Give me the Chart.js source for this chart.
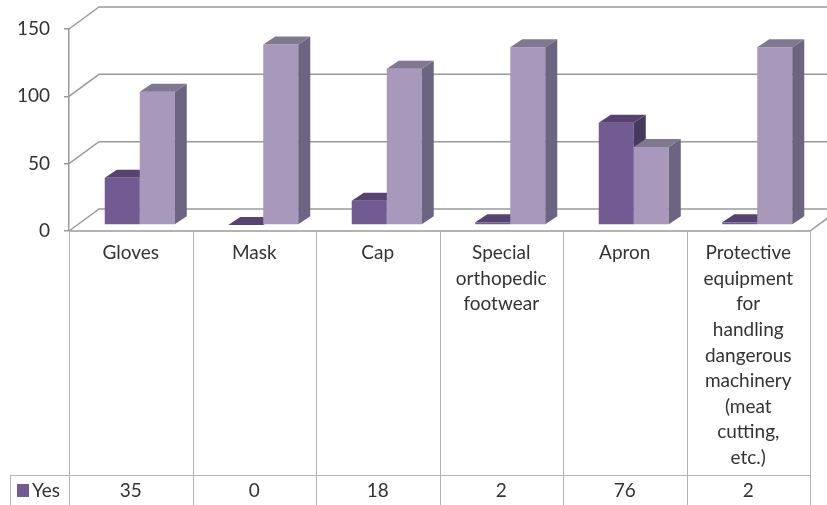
<!DOCTYPE html>
<html>
<head>
<meta charset="utf-8">
<script src="https://cdn.jsdelivr.net/npm/chart.js@4.4.0/dist/chart.umd.min.js"></script>
<style>
  html, body { margin: 0; padding: 0; background: #fff; }
  #wrap { width: 827px; height: 505px; }
</style>
</head>
<body>
<div id="wrap"><canvas id="graph" width="827" height="505"></canvas></div>
<script>
// category labels, already split the way the table wraps them
const categories = [
    ['Gloves'],
    ['Mask'],
    ['Cap'],
    ['Special', 'orthopedic', 'footwear'],
    ['Apron'],
    ['Protective', 'equipment', 'for', 'handling', 'dangerous', 'machinery', '(meat', 'cutting,', 'etc.)']
];
const yesValues = [35, 0, 18, 2, 76, 2];
const noValues = [99, 134, 116, 132, 58, 132];
const yTicks = [0, 50, 100, 150];

const FONT = 'Lato, "Open Sans", sans-serif';
const TEXT = '#333333';

// 3d look: walls offset, bar plane offset, bar depth
const wallDX = 30, wallDY = -22;
const barDX = 9, barDY = -6;
const depthDX = 12, depthDY = -8;

const colors = [
    { front: '#725a92', top: '#574370', side: '#463a5c' },
    { front: '#a898bc', top: '#807890', side: '#6c6480' }
];

const walls = {
    id: 'walls',
    beforeDatasetsDraw(chart) {
        const ctx = chart.ctx;
        const area = chart.chartArea;
        const y = chart.scales.y;
        ctx.save();
        ctx.strokeStyle = '#9a9a9a';
        ctx.lineWidth = 1.5;
        yTicks.forEach(function (v) {
            const py = y.getPixelForValue(v);
            ctx.beginPath();
            ctx.moveTo(area.left, py);
            ctx.lineTo(area.left + wallDX, py + wallDY);
            ctx.lineTo(chart.width, py + wallDY);
            ctx.stroke();
        });
        // floor front edge and right corner
        const y0 = y.getPixelForValue(0);
        ctx.beginPath();
        ctx.moveTo(area.left, y0);
        ctx.lineTo(area.right, y0);
        ctx.lineTo(area.right + wallDX, y0 + wallDY);
        ctx.stroke();
        ctx.restore();
    },
    beforeDatasetDraw() {
        return false;
    },
    afterDatasetsDraw(chart) {
        const ctx = chart.ctx;
        const metas = [chart.getDatasetMeta(0), chart.getDatasetMeta(1)];
        ctx.save();
        for (let i = 0; i < categories.length; i++) {
            metas.forEach(function (meta, d) {
                const p = meta.data[i].getProps(['x', 'y', 'base', 'width'], true);
                const l = p.x - p.width / 2 + barDX;
                const r = p.x + p.width / 2 + barDX;
                const t = p.y + barDY;
                const b = p.base + barDY;
                const c = colors[d];

                ctx.fillStyle = c.front;
                ctx.fillRect(l, t, r - l, b - t);

                ctx.fillStyle = c.side;
                ctx.beginPath();
                ctx.moveTo(r, t);
                ctx.lineTo(r + depthDX, t + depthDY);
                ctx.lineTo(r + depthDX, b + depthDY);
                ctx.lineTo(r, b);
                ctx.closePath();
                ctx.fill();

                ctx.fillStyle = c.top;
                ctx.beginPath();
                ctx.moveTo(l, t);
                ctx.lineTo(r, t);
                ctx.lineTo(r + depthDX, t + depthDY);
                ctx.lineTo(l + depthDX, t + depthDY);
                ctx.closePath();
                ctx.fill();
            });
        }
        ctx.restore();
    }
};

const dataTable = {
    id: 'dataTable',
    afterDraw(chart) {
        const ctx = chart.ctx;
        const area = chart.chartArea;
        const x = chart.scales.x;
        const top = chart.scales.y.getPixelForValue(0);
        const rowTop = 475;
        const bottom = chart.height;
        const colW = (area.right - area.left) / categories.length;

        ctx.save();
        ctx.strokeStyle = '#b4b4b4';
        ctx.lineWidth = 1;
        for (let k = 0; k <= categories.length; k++) {
            const px = Math.round(area.left + k * colW) + 0.5;
            ctx.beginPath();
            ctx.moveTo(px, top);
            ctx.lineTo(px, bottom);
            ctx.stroke();
        }
        ctx.beginPath();
        ctx.moveTo(10, rowTop + 0.5);
        ctx.lineTo(area.right, rowTop + 0.5);
        ctx.moveTo(10.5, rowTop);
        ctx.lineTo(10.5, bottom);
        ctx.stroke();

        ctx.fillStyle = TEXT;
        ctx.font = '19px ' + FONT;
        ctx.textAlign = 'center';
        ctx.textBaseline = 'middle';
        categories.forEach(function (lines, i) {
            const cx = x.getPixelForValue(i);
            lines.forEach(function (s, j) {
                ctx.fillText(s, cx, 253 + j * 25.6);
            });
            ctx.fillText(String(yesValues[i]), cx, 491);
        });

        // legend key for the row
        ctx.fillStyle = colors[0].front;
        ctx.fillRect(17, 484, 12, 13);
        ctx.fillStyle = TEXT;
        ctx.textAlign = 'left';
        ctx.fillText('Yes', 32, 491);
        ctx.restore();
    }
};

new Chart(document.getElementById('graph'), {
    type: 'bar',
    data: {
        labels: categories,
        datasets: [
            { label: 'Yes', data: yesValues, backgroundColor: colors[0].front },
            { label: 'No', data: noValues, backgroundColor: colors[1].front }
        ]
    },
    options: {
        responsive: false,
        animation: false,
        layout: { padding: { left: 0, top: 29, right: 17, bottom: 274 } },
        plugins: { legend: { display: false }, tooltip: { enabled: false } },
        datasets: { bar: { barPercentage: 1, categoryPercentage: 0.567 } },
        scales: {
            x: { display: false },
            y: {
                min: 0,
                max: 150,
                ticks: { stepSize: 50, padding: 14, color: TEXT, font: { family: FONT, size: 19 } },
                grid: { drawOnChartArea: false, tickLength: 5, color: '#9a9a9a', lineWidth: 1.5 },
                border: { color: '#9a9a9a', width: 1.5 },
                afterFit(scale) { scale.width = 69; }
            }
        }
    },
    plugins: [walls, dataTable]
});
</script>
</body>
</html>
